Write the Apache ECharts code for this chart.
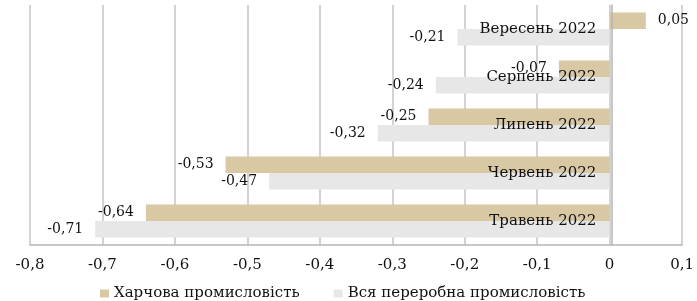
<!DOCTYPE html>
<html><head><meta charset="utf-8">
<script src="https://cdn.jsdelivr.net/npm/echarts@6/dist/echarts.min.js"></script>
<style>html,body{margin:0;padding:0;background:#fff}#c{width:697px;height:301px}</style>
</head><body><div id="c"></div>
<script>
const categories = ['Травень 2022', 'Червень 2022', 'Липень 2022', 'Серпень 2022', 'Вересень 2022'];
const foodName = 'Харчова промисловість';
const allName = 'Вся переробна промисловість';
const foodValues = [-0.64, -0.53, -0.25, -0.07, 0.05];
const allValues = [-0.71, -0.47, -0.32, -0.24, -0.21];
const xTicks = [-0.8, -0.7, -0.6, -0.5, -0.4, -0.3, -0.2, -0.1, 0, 0.1];

const fmt = v => (Math.round(v * 100) / 100).toString().replace('.', ',');
const font = 'DejaVu Serif';
const W = 697, gridLeft = 30, gridRight = 13;
const xMin = xTicks[0], xMax = xTicks[xTicks.length - 1];
const plotW = W - gridLeft - gridRight;
const zeroOffset = -plotW * (0 - xMin) / (xMax - xMin);

const chart = echarts.init(document.getElementById('c'));
const lbl = {
  show: true,
  fontFamily: font, fontSize: 14, color: '#111',
  distance: 12,
  position: 'left',
  formatter: p => fmt(p.value)
};
chart.setOption({
  animation: false,
  textStyle: { fontFamily: font },
  grid: { left: gridLeft, right: gridRight, top: 5, bottom: 56 },
  legend: {
    top: 286, left: 100, itemGap: 34, itemWidth: 9, itemHeight: 8, padding: 0,
    icon: 'rect',
    textStyle: { fontFamily: font, fontSize: 15, color: '#111' },
    data: [foodName, allName]
  },
  xAxis: {
    type: 'value', min: xMin, max: xMax, interval: 0.1,
    axisLine: { show: true, lineStyle: { color: '#b5b5b5', width: 1.5 } },
    axisTick: { show: false },
    splitLine: { show: true, lineStyle: { color: '#c4c4c4', width: 1.5 } },
    axisLabel: { fontFamily: font, fontSize: 15, color: '#111', margin: 13,
      formatter: v => fmt(v) }
  },
  yAxis: {
    type: 'category', data: categories, z: 5,
    position: 'left', offset: zeroOffset,
    axisLine: { show: true, onZero: false, lineStyle: { color: '#b5b5b5', width: 1.5 } },
    axisTick: { show: false },
    axisLabel: { fontFamily: font, fontSize: 15, color: '#111', margin: 15 }
  },
  series: [
    { name: foodName, type: 'bar', barWidth: 16.5, barGap: '0%', z: 2,
      itemStyle: { color: '#d8c8a4' }, label: lbl,
      data: foodValues.map(v => v > 0 ? { value: v, label: { position: 'right' } } : v) },
    { name: allName, type: 'bar', data: allValues, barWidth: 16.5, barGap: '0%', z: 2,
      itemStyle: { color: '#e7e7e7' }, label: lbl }
  ]
});
</script></body></html>
